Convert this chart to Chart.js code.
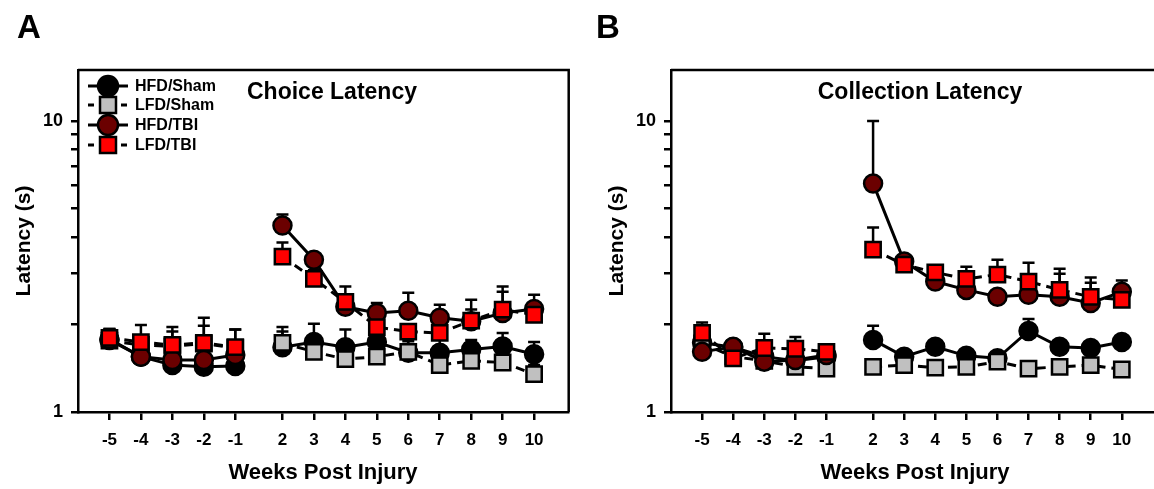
<!DOCTYPE html>
<html>
<head>
<meta charset="utf-8">
<script src="https://cdn.jsdelivr.net/npm/chart.js@4/dist/chart.umd.min.js"></script>
<style>
html,body{margin:0;padding:0;background:#fff;width:1154px;height:489px;overflow:hidden;position:relative;}
.wrap{position:absolute;top:0;height:489px;}
</style>
</head>
<body>
<div class="wrap" style="left:0;width:582px"><canvas id="cA" width="582" height="489"></canvas></div>
<div class="wrap" style="left:577px;width:600px"><canvas id="cB" width="600" height="489"></canvas></div>
<script>
// ---------- data ----------
const weeks = [-5,-4,-3,-2,-1,2,3,4,5,6,7,8,9,10];
const seriesNames = ['HFD/Sham','LFD/Sham','HFD/TBI','LFD/TBI'];
const yTickValues = [1,2,3,4,5,6,7,8,9,10];
const yTickLabels = {1:'1',10:'10'};

// Panel A: Choice Latency (means)
const aHfdSham = [1.77,1.55,1.45,1.43,1.44, 1.67,1.74,1.67,1.74,1.60,1.60,1.64,1.68,1.58];
const aLfdSham = [1.76,1.70,1.68,1.72,1.66, 1.73,1.61,1.52,1.55,1.61,1.45,1.50,1.48,1.35];
const aHfdTbi  = [1.78,1.55,1.51,1.51,1.57, 4.38,3.34,2.30,2.19,2.23,2.11,2.05,2.19,2.26];
const aLfdTbi  = [1.80,1.74,1.70,1.73,1.67, 3.42,2.87,2.39,1.96,1.89,1.87,2.06,2.25,2.16];
// Panel A upper error (SEM)
const aHfdShamErr = [0.16,0.15,0.14,0.20,0.15, 0.22,0.27,0.25,0.20,0.15,0.20,0.13,0.19,0.16];
const aLfdShamErr = [0.10,0.10,0.10,0.10,0.10, 0.23,0.10,0.10,0.10,0.10,0.10,0.10,0.10,0.10];
const aHfdTbiErr  = [0.15,0.20,0.45,0.60,0.35, 0.40,0.15,0.15,0.18,0.34,0.23,0.20,0.40,0.27];
const aLfdTbiErr  = [0.12,0.25,0.19,0.25,0.25, 0.41,0.20,0.31,0.15,0.10,0.15,0.37,0.45,0.15];

// Panel B: Collection Latency (means)
const bHfdSham = [1.73,1.67,1.55,1.50,1.55, 1.77,1.55,1.675,1.56,1.53,1.90,1.675,1.66,1.74];
const bLfdSham = [1.72,1.55,1.50,1.43,1.41, 1.43,1.45,1.42,1.43,1.49,1.41,1.43,1.45,1.40];
const bHfdTbi  = [1.61,1.675,1.49,1.51,1.57, 6.11,3.29,2.81,2.63,2.49,2.53,2.49,2.37,2.59];
const bLfdTbi  = [1.87,1.53,1.66,1.65,1.61, 3.62,3.21,3.02,2.87,2.97,2.81,2.63,2.49,2.43];
// Panel B upper error (SEM)
const bHfdShamErr = [0.10,0.08,0.08,0.08,0.08, 0.21,0.05,0.05,0.05,0.05,0.19,0.05,0.05,0.05];
const bLfdShamErr = [0.05,0.04,0.04,0.04,0.04, 0.04,0.04,0.04,0.04,0.04,0.04,0.04,0.04,0.04];
const bHfdTbiErr  = [0.10,0.08,0.08,0.08,0.08, 3.90,0.15,0.10,0.10,0.10,0.10,0.50,0.41,0.24];
const bLfdTbiErr  = [0.16,0.10,0.20,0.16,0.10, 0.69,0.10,0.10,0.29,0.37,0.45,0.48,0.41,0.15];

// ---------- styling ----------
const DARKRED = '#6b0000', RED = '#ff0000', GRAY = '#c0c0c0', BLACK = '#000000';
const styles = [
  {fill:BLACK,  shape:'circle', dash:[],     r:9,    order:4},
  {fill:GRAY,   shape:'rect',   dash:[9,6],  r:10.8, order:3},
  {fill:DARKRED,shape:'circle', dash:[],     r:9,    order:2},
  {fill:RED,    shape:'rect',   dash:[9,6],  r:10.8, order:1}
];
const SANS = '"Liberation Sans", Arial, sans-serif';
const NARROW = '"Liberation Sans Narrow", "Arial Narrow", "Liberation Sans", Arial, sans-serif';

// x position: gap of 1.5 units between week -1 and week 2
const xPos = weeks.map(w => w < 0 ? w + 5 : w + 3.5);
const weekByPos = {};
xPos.forEach((p,i)=>{ weekByPos[p] = String(weeks[i]); });

function toPoints(vals){
  const pts = [];
  vals.forEach((v,i)=>{
    pts.push({x:xPos[i], y:v});
    if (i === 4) pts.push({x:(xPos[4]+xPos[5])/2, y:null});
  });
  return pts;
}

function makeDatasets(vals, errs){
  return vals.map((v,k)=>({
    label: seriesNames[k],
    data: toPoints(v),
    errs: errs[k],
    order: styles[k].order,
    borderColor: BLACK,
    borderWidth: 3,
    borderDash: styles[k].dash,
    pointStyle: styles[k].shape,
    pointRadius: styles[k].r,
    pointHoverRadius: styles[k].r,
    pointBackgroundColor: styles[k].fill,
    pointBorderColor: BLACK,
    pointBorderWidth: 2.5,
    spanGaps: false,
    tension: 0,
    fill: false
  }));
}

const errorBarPlugin = {
  id:'errbars',
  beforeDatasetsDraw(chart){
    const ctx = chart.ctx, xs = chart.scales.x, ys = chart.scales.y;
    ctx.save();
    ctx.strokeStyle = BLACK; ctx.lineWidth = 2.5; ctx.setLineDash([]);
    const sets = chart.data.datasets.slice().sort((a,b)=>b.order-a.order);
    sets.forEach(ds=>{
      const pts = ds.data.filter(p=>p.y!==null);
      ds.errs.forEach((e,i)=>{
        const pt = pts[i];
        const px = xs.getPixelForValue(pt.x);
        const y0 = ys.getPixelForValue(pt.y);
        const y1 = ys.getPixelForValue(pt.y + e);
        ctx.beginPath(); ctx.moveTo(px,y0); ctx.lineTo(px,y1);
        ctx.moveTo(px-6,y1); ctx.lineTo(px+6,y1); ctx.stroke();
      });
    });
    ctx.restore();
  }
};

function decorPlugin(cfg){
  return {
    id:'decor',
    afterDraw(chart){
      const ctx = chart.ctx, a = chart.chartArea;
      ctx.save();
      ctx.strokeStyle = BLACK; ctx.lineWidth = 2.5; ctx.setLineDash([]);
      ctx.beginPath();
      ctx.moveTo(a.left, a.top); ctx.lineTo(a.right, a.top); ctx.lineTo(a.right, a.bottom);
      ctx.stroke();
      ctx.fillStyle = BLACK;
      // panel letter
      ctx.font = 'bold 33px ' + SANS;
      ctx.textAlign = 'left'; ctx.textBaseline = 'middle';
      ctx.fillText(cfg.letter, cfg.letterX, 29);
      // title
      ctx.font = 'bold 23px ' + SANS;
      ctx.textAlign = 'center';
      ctx.fillText(cfg.title, cfg.titleX, 93);
      // x title
      ctx.font = 'bold 22px ' + NARROW;
      ctx.fillText('Weeks Post Injury', cfg.xTitleX, 473);
      // y title
      ctx.save();
      ctx.translate(cfg.yTitleX, 241); ctx.rotate(-Math.PI/2);
      ctx.font = 'bold 21px ' + SANS;
      ctx.fillText('Latency (s)', 0, 0);
      ctx.restore();
      // legend
      if (cfg.legend){
        const ly = [86,105,125,145];
        seriesNames.forEach((n,k)=>{
          const st = styles[k];
          ctx.lineWidth = 3; ctx.strokeStyle = BLACK;
          ctx.setLineDash(st.dash.length ? [6,5] : []);
          ctx.beginPath(); ctx.moveTo(a.left+10, ly[k]); ctx.lineTo(a.left+50, ly[k]); ctx.stroke();
          ctx.setLineDash([]);
          ctx.fillStyle = st.fill; ctx.lineWidth = 2.5;
          ctx.beginPath();
          if (st.shape === 'circle') ctx.arc(a.left+30, ly[k], 10, 0, Math.PI*2);
          else ctx.rect(a.left+30-8, ly[k]-8, 16, 16);
          ctx.fill(); ctx.stroke();
          ctx.fillStyle = BLACK;
          ctx.font = 'bold 16px ' + SANS;
          ctx.textAlign = 'left';
          ctx.fillText(n, a.left+57, ly[k]+1);
        });
      }
      ctx.restore();
    }
  };
}

function makeChart(id, vals, errs, dims, cfg){
  return new Chart(document.getElementById(id), {
    type:'line',
    data:{datasets: makeDatasets(vals, errs)},
    options:{
      responsive:false, animation:false, devicePixelRatio:1,
      layout:{padding:{left:0, top:70, right:dims.padRight, bottom:0}},
      plugins:{legend:{display:false}, tooltip:{enabled:false}},
      scales:{
        x:{
          type:'linear', min:-1, max:14.6,
          afterFit(s){ s.height = 77; },
          afterBuildTicks(s){ s.ticks = xPos.map(v=>({value:v})); },
          grid:{drawOnChartArea:false, drawTicks:true, tickLength:8, color:BLACK, lineWidth:2.5},
          border:{display:true, color:BLACK, width:2.5},
          ticks:{autoSkip:false, maxRotation:0, minRotation:0, padding:10, color:BLACK,
                 font:{family:NARROW, weight:'bold', size:17},
                 callback:(v)=> weekByPos[v] !== undefined ? weekByPos[v] : ''}
        },
        y:{
          type:'logarithmic', min:1, max:15,
          afterFit(s){ s.width = dims.yWidth; },
          afterBuildTicks(s){ s.ticks = yTickValues.map(v=>({value:v})); },
          grid:{drawOnChartArea:false, drawTicks:true, tickLength:7, color:BLACK, lineWidth:2.5},
          border:{display:true, color:BLACK, width:2.5},
          ticks:{autoSkip:false, padding:8, color:BLACK,
                 font:{family:SANS, weight:'bold', size:18},
                 callback:(v)=> yTickLabels[v] || ''}
        }
      }
    },
    plugins:[errorBarPlugin, decorPlugin(cfg)]
  });
}

makeChart('cA', [aHfdSham,aLfdSham,aHfdTbi,aLfdTbi], [aHfdShamErr,aLfdShamErr,aHfdTbiErr,aLfdTbiErr],
  {yWidth:78, padRight:3},
  {letter:'A', letterX:17, title:'Choice Latency', titleX:332, xTitleX:323, yTitleX:24, legend:true});
makeChart('cB', [bHfdSham,bLfdSham,bHfdTbi,bLfdTbi], [bHfdShamErr,bLfdShamErr,bHfdTbiErr,bLfdTbiErr],
  {yWidth:94, padRight:21},
  {letter:'B', letterX:19, title:'Collection Latency', titleX:343, xTitleX:338, yTitleX:40, legend:false});
</script>
</body>
</html>
